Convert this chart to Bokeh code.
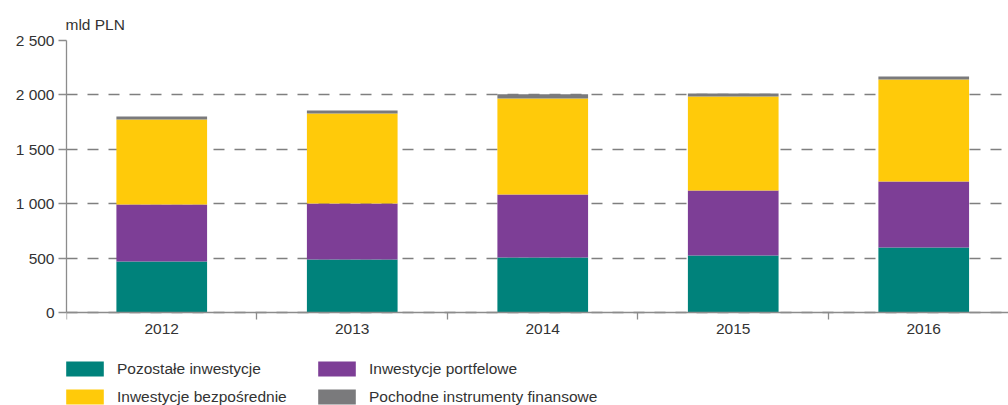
from bokeh.plotting import figure
from bokeh.models import ColumnDataSource, FixedTicker, Range1d, Legend, LegendItem
from bokeh.embed import file_html
from bokeh.resources import INLINE

years = ["2012", "2013", "2014", "2015", "2016"]
pozostale = [469, 487, 505, 524, 597]
portfelowe = [523, 515, 579, 597, 607]
bezposrednie = [782, 827, 883, 864, 937]
pochodne = [27, 27, 40, 27, 28]

series_names = ["Pozostałe inwestycje", "Inwestycje portfelowe",
                "Inwestycje bezpośrednie", "Pochodne instrumenty finansowe"]
colors = ["#00827B", "#7D3E96", "#FFCA0A", "#7A7A7C"]

y_ticks = [0, 500, 1000, 1500, 2000, 2500]
y_tick_labels = ["0", "500", "1 000", "1 500", "2 000", "2 500"]

FONT = "Liberation Sans"
FS = "15.5px"
TXT = "#333333"

# frame spans down to the canvas bottom; the value axis is limited to 0..2500
Y_MAX = 2500
Y_MIN = -Y_MAX * 93 / 272

xs = list(range(len(years)))
src = ColumnDataSource(dict(x=xs, s0=pozostale, s1=portfelowe, s2=bezposrednie, s3=pochodne))

p = figure(width=1008, height=405, output_backend="svg", toolbar_location=None,
           x_range=Range1d(-0.5, 4.445), y_range=Range1d(Y_MIN, Y_MAX),
           min_border_left=66, min_border_right=0, min_border_top=40, min_border_bottom=0,
           title="mld PLN")
p.outline_line_color = None
p.title.text_font = FONT
p.title.text_font_size = FS
p.title.text_font_style = "normal"
p.title.text_color = TXT
p.title.align = "left"
p.title.offset = -1
p.title.standoff = 16

renderers = p.vbar_stack(["s0", "s1", "s2", "s3"], x="x", width=0.476, color=colors,
                         source=src, line_width=0)

# x axis crossing at value 0
p.xaxis.fixed_location = 0
p.xaxis.ticker = FixedTicker(ticks=xs, minor_ticks=[i - 0.5 for i in range(len(years) + 1)])
p.xaxis.major_label_overrides = {i: y for i, y in enumerate(years)}
p.xaxis.major_tick_out = 0
p.xaxis.major_tick_in = 0
p.xaxis.minor_tick_out = 7
p.xaxis.minor_tick_in = 0
p.xaxis.minor_tick_line_color = "#8c8c8c"
p.xaxis.minor_tick_line_width = 1.3
p.xaxis.axis_line_color = "#8c8c8c"
p.xaxis.axis_line_width = 1.3
p.xaxis.major_label_standoff = 4

p.yaxis.bounds = (0, Y_MAX)
p.yaxis.ticker = FixedTicker(ticks=y_ticks, minor_ticks=[])
p.yaxis.major_label_overrides = {t: l for t, l in zip(y_ticks, y_tick_labels)}
p.yaxis.major_tick_out = 8
p.yaxis.major_tick_in = 0
p.yaxis.major_tick_line_color = "#8c8c8c"
p.yaxis.major_tick_line_width = 1.3
p.yaxis.axis_line_color = "#8c8c8c"
p.yaxis.axis_line_width = 1.3
p.yaxis.major_label_standoff = 4

for ax in (p.xaxis, p.yaxis):
    ax.major_label_text_font = FONT
    ax.major_label_text_font_size = FS
    ax.major_label_text_color = TXT

p.xgrid.grid_line_color = None
p.ygrid.ticker = FixedTicker(ticks=y_ticks)
p.ygrid.grid_line_color = "#7f7f7f"
p.ygrid.grid_line_width = 1.3
p.ygrid.grid_line_dash = "11 10"

items = [LegendItem(label=n, renderers=[r]) for n, r in zip(series_names, renderers)]
legend = Legend(items=items, location=(-5, -2), orientation="horizontal", ncols=2,
                glyph_width=47, glyph_height=19, label_standoff=9, label_width=189,
                label_height=21, spacing=7, padding=0, margin=0, border_line_color=None,
                background_fill_alpha=0, label_text_baseline="alphabetic",
                label_text_font=FONT, label_text_font_size=FS, label_text_color=TXT)
p.add_layout(legend, "center")

open("out.html", "w").write(file_html(p, INLINE))
